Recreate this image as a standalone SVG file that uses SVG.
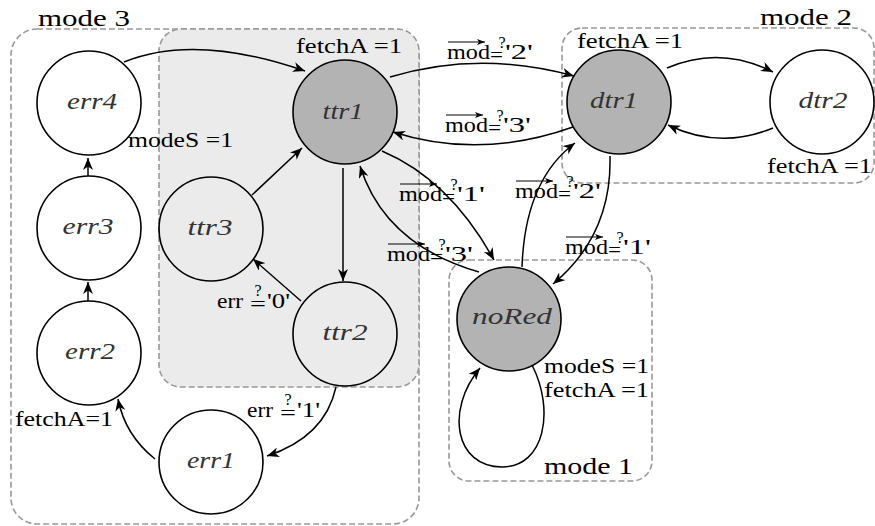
<svg xmlns="http://www.w3.org/2000/svg" width="875" height="526" viewBox="0 0 875 526" font-family="Liberation Serif, Times New Roman, serif">
<style>
.grp{fill:none;stroke:#999;stroke-width:1.6;stroke-dasharray:6 3}
.shade{fill:#ebebeb}
.node{stroke:#000;stroke-width:1.6;fill:none}
.white{fill:#fff}
.hot{fill:#b3b3b3}
.nl{font-style:italic;font-size:23px;fill:#333;text-anchor:middle}
.t{font-size:22px;fill:#000}
.m{font-size:21px;fill:#000}
.q{font-size:16px;fill:#000;text-anchor:middle}
.big{font-size:24px;fill:#000}
.e{fill:none;stroke:#000;stroke-width:1.5;marker-end:url(#ah)}
.oa{fill:none;stroke:#000;stroke-width:1;marker-end:url(#sa)}
</style>
<defs>
<marker id="ah" viewBox="0 0 12 10" refX="12" refY="5" markerWidth="12" markerHeight="10" orient="auto" markerUnits="userSpaceOnUse"><path d="M0,0 L12,5 L0,10 L3.5,5 z" fill="#000"/></marker>
<marker id="sa" viewBox="0 0 8 6" refX="8" refY="3" markerWidth="8" markerHeight="6" orient="auto" markerUnits="userSpaceOnUse"><path d="M0,0 L8,3 L0,6 L2,3 z" fill="#000"/></marker>
</defs>

<g id="containers">
<rect id="mode3" class="grp" x="11" y="29" width="408" height="495" rx="26"/>
<rect id="inner" class="grp shade" x="159" y="29" width="260" height="358" rx="22"/>
<rect id="mode2" class="grp" x="562" y="28" width="312" height="155" rx="20"/>
<rect id="mode1" class="grp" x="449" y="260" width="203" height="221" rx="20"/>
<text class="big" x="38" y="26" textLength="92" lengthAdjust="spacingAndGlyphs">mode 3</text>
<text class="big" x="760" y="25" textLength="92" lengthAdjust="spacingAndGlyphs">mode 2</text>
<text class="big" x="544" y="474" textLength="89" lengthAdjust="spacingAndGlyphs">mode 1</text>
</g>

<g id="connectors">
<path class="e" d="M124,62 Q195,33 305,71"/>
<path class="e" d="M390,77 Q480,50 574,76"/>
<path class="e" d="M573,127 Q480,160 393,132"/>
<path class="e" d="M667,68 Q720,45 773,72"/>
<path class="e" d="M773,128 Q720,150 668,125"/>
<path class="e" d="M343,168 L343,281"/>
<path class="e" d="M252,195 L302,148"/>
<path class="e" d="M301,301 L253,259"/>
<path class="e" d="M336,387 Q325,437 267,456"/>
<path class="e" d="M155,459 Q125,435 118,399"/>
<path class="e" d="M88,301 L88,282"/>
<path class="e" d="M88,176 L88,158"/>
<path class="e" d="M382,151 Q450,180 494,260"/>
<path class="e" d="M479,272 Q385,245 360,166"/>
<path class="e" d="M522,267 Q525,180 575,143"/>
<path class="e" d="M610,156 Q612,235 553,284"/>
<path class="e" d="M532,365 C555,410 545,467 502,467 C455,467 445,410 480,368"/>
</g>

<g id="err4"><circle class="node white" cx="89" cy="103" r="52"/><text class="nl" x="92" y="109" textLength="50" lengthAdjust="spacingAndGlyphs">err4</text></g>
<g id="ttr1"><circle class="node hot" cx="345" cy="112" r="52"/><text class="nl" x="343" y="119" textLength="41" lengthAdjust="spacingAndGlyphs">ttr1</text></g>
<g id="dtr1"><circle class="node hot" cx="619" cy="102" r="52"/><text class="nl" x="614" y="108" textLength="48" lengthAdjust="spacingAndGlyphs">dtr1</text></g>
<g id="dtr2"><circle class="node white" cx="822" cy="102" r="52"/><text class="nl" x="823" y="108" textLength="49" lengthAdjust="spacingAndGlyphs">dtr2</text></g>
<g id="err3"><circle class="node white" cx="89" cy="228" r="52"/><text class="nl" x="88" y="234" textLength="51" lengthAdjust="spacingAndGlyphs">err3</text></g>
<g id="ttr3"><circle class="node" cx="211" cy="229" r="52"/><text class="nl" x="210" y="235" textLength="45" lengthAdjust="spacingAndGlyphs">ttr3</text></g>
<g id="err2"><circle class="node white" cx="89" cy="353" r="52"/><text class="nl" x="90" y="359" textLength="50" lengthAdjust="spacingAndGlyphs">err2</text></g>
<g id="ttr2"><circle class="node" cx="345" cy="334" r="52"/><text class="nl" x="345" y="340" textLength="45" lengthAdjust="spacingAndGlyphs">ttr2</text></g>
<g id="err1"><circle class="node white" cx="211" cy="462" r="52"/><text class="nl" x="211" y="468" textLength="48" lengthAdjust="spacingAndGlyphs">err1</text></g>
<g id="noRed"><circle class="node hot" cx="509" cy="319" r="52"/><text class="nl" x="512" y="324" textLength="80" lengthAdjust="spacingAndGlyphs">noRed</text></g>

<g id="labels">
<text class="t" x="296" y="53" textLength="106" lengthAdjust="spacingAndGlyphs">fetchA =1</text>
<text class="t" x="128" y="147" textLength="105" lengthAdjust="spacingAndGlyphs">modeS =1</text>
<text class="t" x="577" y="48" textLength="106" lengthAdjust="spacingAndGlyphs">fetchA =1</text>
<text class="t" x="767" y="173" textLength="105" lengthAdjust="spacingAndGlyphs">fetchA =1</text>
<text class="t" x="544" y="373" textLength="105" lengthAdjust="spacingAndGlyphs">modeS =1</text>
<text class="t" x="544" y="397" textLength="105" lengthAdjust="spacingAndGlyphs">fetchA =1</text>
<text class="t" x="15" y="426" textLength="98" lengthAdjust="spacingAndGlyphs">fetchA=1</text>

<text class="m" x="447" y="59" textLength="43" lengthAdjust="spacingAndGlyphs">mod</text><path class="oa" d="M448,42 H485"/><text class="m" x="490" y="62" textLength="13" lengthAdjust="spacingAndGlyphs">=</text><text class="q" x="502" y="48">?</text><text class="m" x="505" y="59" textLength="28" lengthAdjust="spacingAndGlyphs">'2'</text>

<text class="m" x="445" y="132" textLength="43" lengthAdjust="spacingAndGlyphs">mod</text><path class="oa" d="M446,115 H483"/><text class="m" x="488" y="135" textLength="13" lengthAdjust="spacingAndGlyphs">=</text><text class="q" x="500" y="121">?</text><text class="m" x="503" y="132" textLength="28" lengthAdjust="spacingAndGlyphs">'3'</text>

<text class="m" x="399" y="201" textLength="43" lengthAdjust="spacingAndGlyphs">mod</text><path class="oa" d="M400,184 H437"/><text class="m" x="442" y="204" textLength="13" lengthAdjust="spacingAndGlyphs">=</text><text class="q" x="454" y="190">?</text><text class="m" x="457" y="201" textLength="28" lengthAdjust="spacingAndGlyphs">'1'</text>

<text class="m" x="387" y="261" textLength="43" lengthAdjust="spacingAndGlyphs">mod</text><path class="oa" d="M388,244 H425"/><text class="m" x="430" y="264" textLength="13" lengthAdjust="spacingAndGlyphs">=</text><text class="q" x="442" y="250">?</text><text class="m" x="445" y="261" textLength="28" lengthAdjust="spacingAndGlyphs">'3'</text>

<text class="m" x="515" y="198" textLength="43" lengthAdjust="spacingAndGlyphs">mod</text><path class="oa" d="M516,181 H553"/><text class="m" x="558" y="201" textLength="13" lengthAdjust="spacingAndGlyphs">=</text><text class="q" x="570" y="187">?</text><text class="m" x="573" y="198" textLength="28" lengthAdjust="spacingAndGlyphs">'2'</text>

<text class="m" x="565" y="254" textLength="43" lengthAdjust="spacingAndGlyphs">mod</text><path class="oa" d="M566,237 H603"/><text class="m" x="608" y="257" textLength="13" lengthAdjust="spacingAndGlyphs">=</text><text class="q" x="620" y="243">?</text><text class="m" x="623" y="254" textLength="28" lengthAdjust="spacingAndGlyphs">'1'</text>

<text class="m" x="217" y="308" textLength="26" lengthAdjust="spacingAndGlyphs">err</text><text class="m" x="250" y="311" textLength="16" lengthAdjust="spacingAndGlyphs">=</text><text class="q" x="258" y="296">?</text><text class="m" x="267" y="308" textLength="23" lengthAdjust="spacingAndGlyphs">'0'</text>

<text class="m" x="247" y="417" textLength="26" lengthAdjust="spacingAndGlyphs">err</text><text class="m" x="280" y="420" textLength="16" lengthAdjust="spacingAndGlyphs">=</text><text class="q" x="288" y="405">?</text><text class="m" x="297" y="417" textLength="23" lengthAdjust="spacingAndGlyphs">'1'</text>
</g>
</svg>
